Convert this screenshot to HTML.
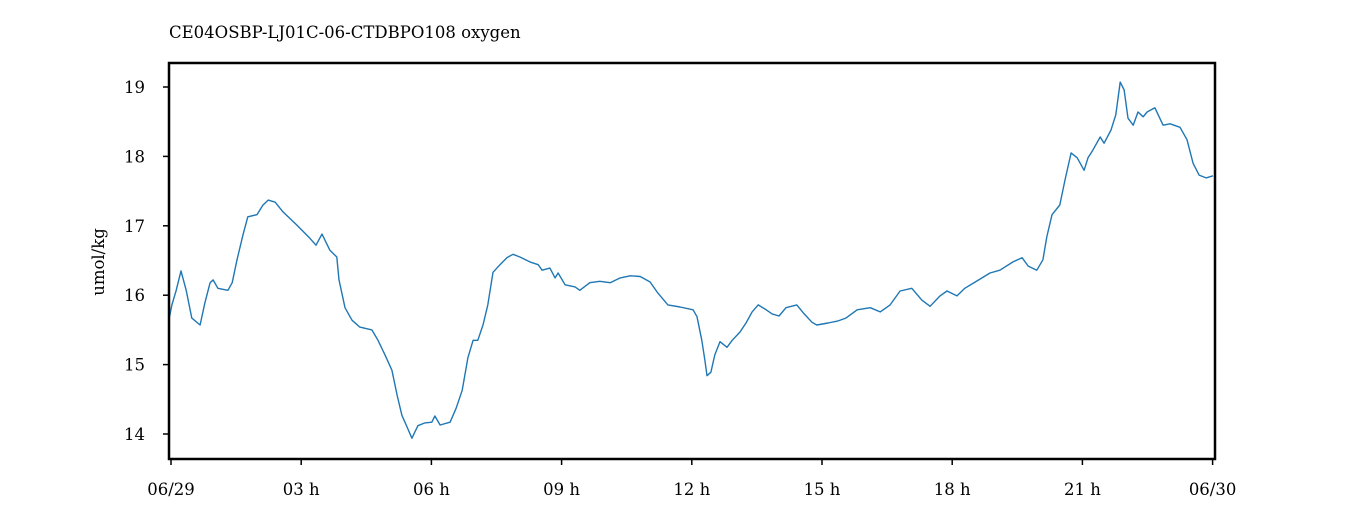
<!DOCTYPE html>
<html><head><meta charset="utf-8"><style>
body{margin:0;background:#fff;}
svg text{font-family:"DejaVu Serif","Liberation Serif",serif;font-size:16.5px;fill:#000;}
</style></head><body>
<svg width="1350" height="525" xmlns="http://www.w3.org/2000/svg">
<text x="169" y="38">CE04OSBP-LJ01C-06-CTDBPO108 oxygen</text>
<text transform="translate(104,262) rotate(-90)" text-anchor="middle">umol/kg</text>
<g id="ticks"></g>
<polyline id="line" fill="none" stroke="#1f77b4" stroke-width="1.4" stroke-linejoin="round"/>
<rect x="169" y="63" width="1046" height="396" fill="none" stroke="#000" stroke-width="2.5"/>
</svg>
<script>
const hours=[-0.05,0.02,0.12,0.23,0.35,0.48,0.67,0.78,0.90,0.97,1.08,1.31,1.41,1.52,1.66,1.77,1.98,2.12,2.24,2.40,2.58,2.90,3.20,3.34,3.48,3.66,3.82,3.87,4.01,4.17,4.35,4.63,4.77,4.93,5.09,5.21,5.32,5.44,5.55,5.69,5.85,6.01,6.08,6.20,6.43,6.57,6.71,6.84,6.96,7.07,7.19,7.30,7.42,7.58,7.74,7.88,8.04,8.27,8.46,8.55,8.73,8.85,8.92,9.08,9.31,9.42,9.65,9.88,10.12,10.35,10.58,10.81,11.04,11.22,11.45,11.73,12.03,12.12,12.23,12.30,12.35,12.44,12.53,12.65,12.81,12.93,13.11,13.25,13.39,13.53,13.69,13.85,14.01,14.17,14.42,14.59,14.77,14.88,15.14,15.37,15.55,15.81,16.11,16.34,16.57,16.80,17.07,17.30,17.49,17.72,17.88,18.11,18.29,18.53,18.87,19.10,19.40,19.61,19.75,19.95,20.09,20.18,20.30,20.48,20.60,20.74,20.88,21.04,21.13,21.24,21.41,21.50,21.66,21.77,21.87,21.96,22.05,22.17,22.28,22.40,22.49,22.67,22.86,23.02,23.25,23.41,23.55,23.69,23.85,24.01];
const oxygen=[15.64,15.86,16.07,16.35,16.07,15.67,15.57,15.89,16.18,16.22,16.10,16.07,16.18,16.51,16.87,17.13,17.16,17.30,17.37,17.34,17.20,17.01,16.82,16.72,16.88,16.65,16.55,16.22,15.82,15.64,15.54,15.50,15.35,15.14,14.92,14.56,14.27,14.10,13.94,14.12,14.16,14.17,14.26,14.13,14.17,14.37,14.63,15.10,15.35,15.35,15.57,15.86,16.33,16.44,16.54,16.59,16.55,16.48,16.44,16.36,16.39,16.25,16.32,16.15,16.12,16.07,16.18,16.20,16.18,16.25,16.28,16.27,16.19,16.03,15.86,15.83,15.79,15.69,15.35,15.07,14.84,14.89,15.14,15.33,15.25,15.35,15.47,15.60,15.76,15.86,15.80,15.73,15.70,15.82,15.86,15.73,15.61,15.57,15.60,15.63,15.67,15.79,15.82,15.76,15.86,16.06,16.10,15.93,15.84,15.99,16.06,15.99,16.10,16.19,16.32,16.36,16.48,16.54,16.42,16.36,16.51,16.84,17.16,17.30,17.66,18.05,17.98,17.80,17.98,18.09,18.28,18.19,18.38,18.60,19.07,18.96,18.55,18.45,18.64,18.57,18.64,18.70,18.45,18.47,18.42,18.24,17.90,17.73,17.69,17.72];
const xTickHours=[0,3,6,9,12,15,18,21,24];
const xTickLabels=["06/29","03 h","06 h","09 h","12 h","15 h","18 h","21 h","06/30"];
const yTicks=[14,15,16,17,18,19];
const X=h=>171+h*43.4;
const Y=v=>87+(19-v)*69.4;
const NS="http://www.w3.org/2000/svg";
const line=document.getElementById('line');
line.setAttribute('points',hours.map((h,i)=>X(h).toFixed(1)+','+Y(oxygen[i]).toFixed(1)).join(' '));
const g=document.getElementById('ticks');
function mk(tag,attrs){const e=document.createElementNS(NS,tag);for(const k in attrs)e.setAttribute(k,attrs[k]);g.appendChild(e);return e;}
xTickHours.forEach((h,i)=>{
 const t=mk('line',{x1:X(h),x2:X(h),y1:459,y2:465,stroke:'#000','stroke-width':1.5});
 
 
 const l=mk('text',{x:X(h),y:495,'text-anchor':'middle'});
 l.textContent=xTickLabels[i];
 
 
});
yTicks.forEach(v=>{
 const t=mk('line',{x1:163,x2:169,y1:Y(v),y2:Y(v),stroke:'#000','stroke-width':1.5});
 
 
 const l=mk('text',{x:145,y:Y(v)+6,'text-anchor':'end'});
 l.textContent=v;
 
 
});
</script>
</body></html>
